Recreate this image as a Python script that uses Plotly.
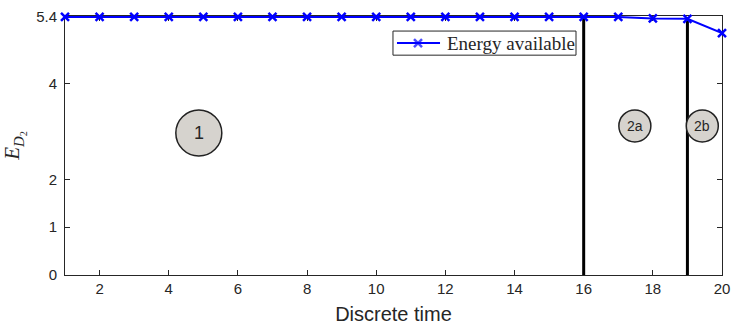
import plotly.graph_objects as go

t = list(range(1, 21))
energy = [5.4]*17 + [5.37, 5.36, 5.06]
phase_bounds = [16, 19]
y_ticks = [0, 1, 2, 4, 5.4]
x_ticks = [2, 4, 6, 8, 10, 12, 14, 16, 18, 20]
labels = ["1", "2a", "2b"]
label_x = [4.87, 17.48, 19.43]
label_y = [2.97, 3.12, 3.12]
label_r = [23, 16, 16]
label_size = [18, 14, 14]
legend_label = "Energy available"

fig = go.Figure()
for b in phase_bounds:
    fig.add_trace(go.Scatter(x=[b, b], y=[0, 5.4], mode="lines",
                             line=dict(color="black", width=3), showlegend=False, hoverinfo="skip"))
fig.add_trace(go.Scatter(x=t, y=energy, mode="lines+markers", name=legend_label, showlegend=False,
                         cliponaxis=False,
                         line=dict(color="#0000ff", width=2),
                         marker=dict(symbol="x-thin", size=8, line=dict(color="#0000ff", width=2.5))))

for lab, xx, yy, r, fs in zip(labels, label_x, label_y, label_r, label_size):
    fig.add_shape(type="circle", xref="x", yref="y", xsizemode="pixel", ysizemode="pixel",
                  xanchor=xx, yanchor=yy, x0=-r, x1=r, y0=-r, y1=r,
                  fillcolor="#d6d3ce", line=dict(color="#222222", width=1.5), layer="above")
    fig.add_annotation(x=xx, y=yy, text=lab, showarrow=False,
                       font=dict(family="Liberation Sans, Arial", size=fs, color="#262626"))

# manual legend (box, sample line+marker, text)
fig.add_shape(type="rect", xref="paper", yref="paper", x0=0.4992, x1=0.7778, y0=0.8488, y1=0.9419,
              fillcolor="white", line=dict(color="#262626", width=1), layer="below")
fig.add_trace(go.Scatter(x=[0.5053, 0.5373, 0.5708], y=[0.8953]*3, xaxis="x2", yaxis="y2",
                         mode="lines+markers", showlegend=False, hoverinfo="skip",
                         line=dict(color="#0000ff", width=2),
                         marker=dict(symbol="x-thin", size=[0, 8, 0], line=dict(color="#0000ff", width=2.5))))
fig.add_annotation(xref="paper", yref="paper", x=0.5784, y=0.8953, xanchor="left", yanchor="middle",
                   text=legend_label, showarrow=False,
                   font=dict(family="Liberation Serif, DejaVu Serif", size=19, color="#262626"))

axis_common = dict(showline=True, linecolor="#262626", linewidth=1, mirror="ticks",
                   ticks="inside", ticklen=5, tickcolor="#262626", showgrid=False, zeroline=False,
                   automargin=False, layer="below traces",
                   tickfont=dict(family="Liberation Sans, Arial", size=15, color="#262626"))
fig.update_xaxes(range=[1, 20], tickvals=x_ticks, **axis_common,
                 title=dict(text="Discrete time", font=dict(family="Liberation Sans, Arial", size=20, color="#262626"), standoff=10))
fig.update_yaxes(range=[0, 5.42], tickvals=y_ticks, ticktext=["0", "1", "2", "4", "5.4"], **axis_common,
                 ticklabelstandoff=4,
                 title=dict(text="<i>E</i><sub><i>D</i><sub>2</sub></sub>", font=dict(family="Liberation Serif, DejaVu Serif", size=21, color="#262626"), standoff=10))

fig.update_layout(width=733, height=331, margin=dict(l=65, r=11, t=16, b=56),
                  plot_bgcolor="white", paper_bgcolor="white",
                  xaxis2=dict(overlaying="x", range=[0, 1], visible=False, fixedrange=True),
                  yaxis2=dict(overlaying="y", range=[0, 1], visible=False, fixedrange=True),
                  showlegend=False)
fig.write_html("out.html")
